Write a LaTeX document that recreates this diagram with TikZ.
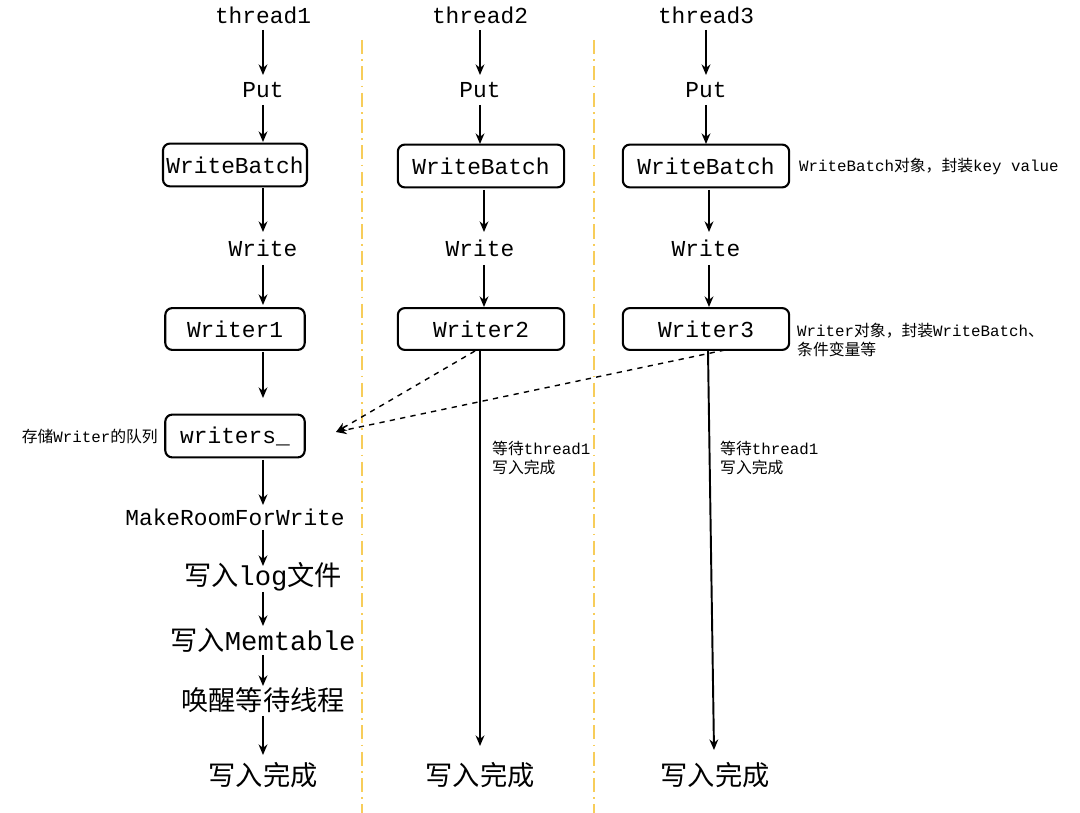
\documentclass[tikz,border=0pt]{standalone}
\usepackage{fontspec}
\setmainfont{Liberation Mono}
\newfontfamily\cjk{Noto Sans CJK SC}
\usetikzlibrary{arrows.meta}
\begin{document}
\begin{tikzpicture}[x=0.02cm,y=-0.02cm,
  box/.style={draw,line width=1.2pt,rounded corners=4pt,inner xsep=2pt},
  lbl/.style={font=\fontsize{13}{15}\selectfont},
  zh/.style={font=\fontsize{15.5}{17}\selectfont\cjk},
  note/.style={font=\fontsize{9}{11}\selectfont,align=left},
  ar/.style={-{Stealth[length=6pt,width=5pt]},line width=1.1pt},
  da/.style={-{Stealth[length=6pt,width=5pt]},dashed,line width=0.8pt},
  sep/.style={draw={rgb,255:red,247;green,205;blue,90},line width=1pt,dash pattern=on 8pt off 3pt on 1pt off 3pt}]
\useasboundingbox (0,0) rectangle (1080,813);
\draw[sep] (362,40) -- (362,813);
\draw[sep] (594,40) -- (594,813);
% column 1
\node[lbl] (t1) at (263,15) {thread1};
\node[lbl] (p1) at (263,90) {Put};
\node[box,lbl,minimum width=140*0.567pt,minimum height=43*0.567pt] (wb1) at (235,165) {WriteBatch};
\node[lbl] (w1) at (263,248) {Write};
\node[box,lbl,minimum width=140*0.567pt,minimum height=42*0.567pt] (wr1) at (235,329) {Writer1};
\node[box,lbl,minimum width=140*0.567pt,minimum height=43*0.567pt] (q) at (235,436) {writers\_};
\node[lbl] (mr) at (235,517) {MakeRoomForWrite};
\node[zh] (lg) at (263,577) {写入\fontspec{Liberation Mono}log\cjk 文件};
\node[zh] (mt) at (263,640) {写入\fontspec{Liberation Mono}Memtable};
\node[zh] (hx) at (263,700) {唤醒等待线程};
\node[zh] (d1) at (263,775) {写入完成};
\draw[ar] (263,30) -- (263,75);
\draw[ar] (263,105) -- (263,142);
\draw[ar] (263,188) -- (263,232);
\draw[ar] (263,265) -- (263,305);
\draw[ar] (263,352) -- (263,398);
\draw[ar] (263,460) -- (263,505);
\draw[ar] (263,530) -- (263,566);
\draw[ar] (263,592) -- (263,626);
\draw[ar] (263,655) -- (263,686);
\draw[ar] (263,716) -- (263,755);
% column 2
\node[lbl] (t2) at (480,15) {thread2};
\node[lbl] (p2) at (480,90) {Put};
\node[box,lbl,minimum width=167*0.567pt,minimum height=43*0.567pt] (wb2) at (481,166) {WriteBatch};
\node[lbl] (w2) at (480,248) {Write};
\node[box,lbl,minimum width=167*0.567pt,minimum height=42*0.567pt] (wr2) at (481,329) {Writer2};
\node[zh] (d2) at (480,775) {写入完成};
\draw[ar] (480,30) -- (480,75);
\draw[ar] (480,105) -- (480,144);
\draw[ar] (484,190) -- (484,232);
\draw[ar] (484,265) -- (484,307);
\draw[ar] (480,351) -- (480,746);
\node[note,anchor=north west] at (486,435) {{\cjk 等待}thread1\\{\cjk 写入完成}};
% column 3
\node[lbl] (t3) at (706,15) {thread3};
\node[lbl] (p3) at (706,90) {Put};
\node[box,lbl,minimum width=167*0.567pt,minimum height=43*0.567pt] (wb3) at (706,166) {WriteBatch};
\node[lbl] (w3) at (706,248) {Write};
\node[box,lbl,minimum width=167*0.567pt,minimum height=42*0.567pt] (wr3) at (706,329) {Writer3};
\node[zh] (d3) at (715,775) {写入完成};
\draw[ar] (706,30) -- (706,75);
\draw[ar] (706,105) -- (706,144);
\draw[ar] (709,190) -- (709,232);
\draw[ar] (709,265) -- (709,307);
\draw[ar] (708,351) -- (714,750);
\node[note,anchor=north west] at (714,435) {{\cjk 等待}thread1\\{\cjk 写入完成}};
% dashed
\draw[da] (475,351) -- (336,432);
\draw[da] (725,350) -- (336,432);
% notes
\node[note,anchor=east] at (164,437) {{\cjk 存储}Writer{\cjk 的队列}};
\node[note,anchor=west] at (793,166) {WriteBatch{\cjk 对象，封装}key value};
\node[note,anchor=north west] at (791,317) {Writer{\cjk 对象，封装}WriteBatch{\cjk 、}\\{\cjk 条件变量等}};
\end{tikzpicture}
\end{document}
